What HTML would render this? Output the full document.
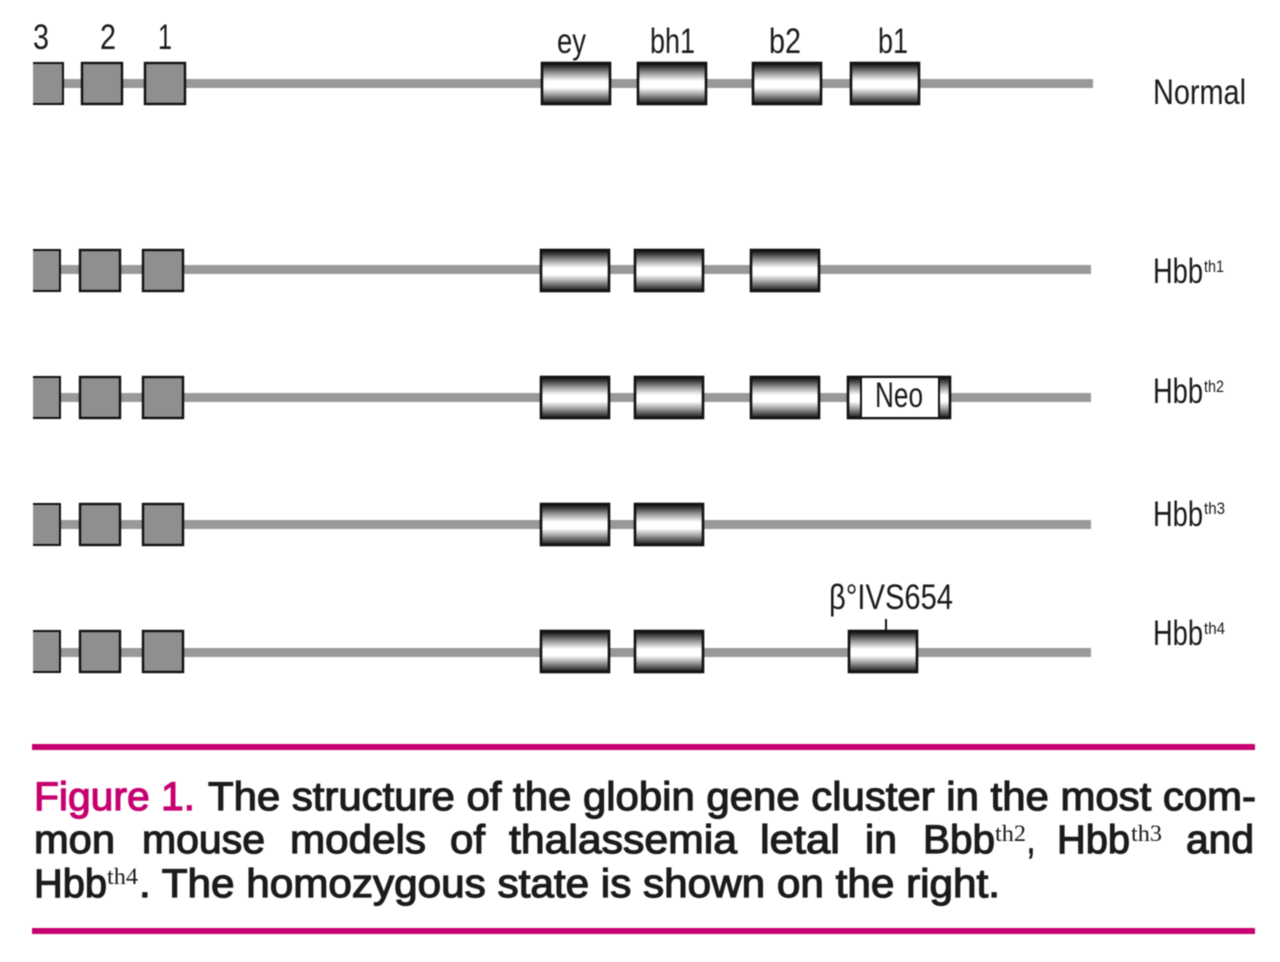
<!DOCTYPE html>
<html>
<head>
<meta charset="utf-8">
<style>
html,body{margin:0;padding:0;background:#fff;width:1280px;height:962px;overflow:hidden}
svg{display:block;filter:blur(.4px)}
text{font-family:"Liberation Sans",sans-serif;fill:#1a1a1a}
.l{font-size:35px;stroke:none}
.s{font-size:17px}
.c{font-size:40px;fill:#1c1a1b;stroke:#1c1a1b;stroke-width:1.2px}
.cs{font-size:23px;font-family:"Liberation Serif",serif;fill:#1c1a1b}
</style>
</head>
<body>
<svg width="1280" height="962" viewBox="0 0 1280 962" xmlns="http://www.w3.org/2000/svg">
<defs>
<linearGradient id="g" x1="0" y1="0" x2="0" y2="1">
<stop offset="0" stop-color="#111"/><stop offset=".08" stop-color="#333"/><stop offset=".25" stop-color="#999"/><stop offset=".44" stop-color="#fff"/><stop offset=".6" stop-color="#fff"/><stop offset=".78" stop-color="#999"/><stop offset=".92" stop-color="#444"/><stop offset="1" stop-color="#111"/>
</linearGradient>
<g id="gene"><rect x="1" y="1" width="68" height="41" fill="url(#g)" stroke="#111" stroke-width="2.6"/></g>
<g id="box"><rect x="1" y="1" width="40" height="41" fill="#8f8f8f" stroke="#111" stroke-width="2.4"/></g>
<g id="box3"><rect x="0" y="0" width="28" height="43" fill="#111"/><rect x="0" y="2" width="26" height="39" fill="#8f8f8f"/></g>
</defs>
<rect width="1280" height="962" fill="#fff"/>

<!-- Row 1 -->
<rect x="34" y="79" width="1059" height="9" fill="#999"/>
<g transform="translate(33,62)"><rect width="31" height="43" fill="#111"/><rect y="2" width="29" height="39" fill="#8f8f8f"/></g>
<use href="#box" x="81" y="62"/>
<use href="#box" x="144" y="62"/>
<use href="#gene" x="541" y="62"/><use href="#gene" x="637" y="62"/><use href="#gene" x="752" y="62"/><use href="#gene" x="850" y="62"/>

<!-- Row 2 -->
<rect x="34" y="265" width="1057" height="9" fill="#999"/>
<use href="#box3" x="33" y="249"/><use href="#box" x="79" y="249"/><use href="#box" x="142" y="249"/>
<use href="#gene" x="540" y="249"/><use href="#gene" x="634" y="249"/><use href="#gene" x="750" y="249"/>

<!-- Row 3 -->
<rect x="34" y="393" width="1057" height="9" fill="#999"/>
<use href="#box3" x="33" y="376"/><use href="#box" x="79" y="376"/><use href="#box" x="142" y="376"/>
<use href="#gene" x="540" y="376"/><use href="#gene" x="634" y="376"/><use href="#gene" x="750" y="376"/>
<rect x="848" y="377" width="102" height="41" fill="url(#g)" stroke="#111" stroke-width="2.6"/>
<rect x="861" y="377" width="78" height="41" fill="#fff" stroke="#111" stroke-width="2"/>

<!-- Row 4 -->
<rect x="34" y="520" width="1057" height="9" fill="#999"/>
<use href="#box3" x="33" y="503"/><use href="#box" x="79" y="503"/><use href="#box" x="142" y="503"/>
<use href="#gene" x="540" y="503"/><use href="#gene" x="634" y="503"/>

<!-- Row 5 -->
<rect x="34" y="648" width="1057" height="9" fill="#999"/>
<use href="#box3" x="33" y="630"/><use href="#box" x="79" y="630"/><use href="#box" x="142" y="630"/>
<use href="#gene" x="540" y="630"/><use href="#gene" x="634" y="630"/><use href="#gene" x="848" y="630"/>
<rect x="885" y="619" width="2" height="12" fill="#111"/>

<!-- Top labels -->
<text class="l" x="33" y="49" textLength="16" lengthAdjust="spacingAndGlyphs">3</text>
<text class="l" x="100" y="49" textLength="16" lengthAdjust="spacingAndGlyphs">2</text>
<text class="l" x="158" y="49" textLength="14" lengthAdjust="spacingAndGlyphs">1</text>
<text class="l" x="557" y="53" textLength="29" lengthAdjust="spacingAndGlyphs">ey</text>
<text class="l" x="650" y="53" textLength="45" lengthAdjust="spacingAndGlyphs">bh1</text>
<text class="l" x="769" y="53" textLength="32" lengthAdjust="spacingAndGlyphs">b2</text>
<text class="l" x="878" y="53" textLength="30" lengthAdjust="spacingAndGlyphs">b1</text>
<text class="l" x="875" y="407" textLength="48" lengthAdjust="spacingAndGlyphs">Neo</text>
<text class="l" x="829" y="609" textLength="124" lengthAdjust="spacingAndGlyphs">β°IVS654</text>

<!-- Right labels -->
<text class="l" x="1153" y="104" textLength="93" lengthAdjust="spacingAndGlyphs">Normal</text>
<text class="l" x="1153" y="283" textLength="50" lengthAdjust="spacingAndGlyphs">Hbb</text>
<text class="s" x="1204" y="272" textLength="20" lengthAdjust="spacingAndGlyphs">th1</text>
<text class="l" x="1153" y="403" textLength="50" lengthAdjust="spacingAndGlyphs">Hbb</text>
<text class="s" x="1204" y="392" textLength="20" lengthAdjust="spacingAndGlyphs">th2</text>
<text class="l" x="1153" y="526" textLength="50" lengthAdjust="spacingAndGlyphs">Hbb</text>
<text class="s" x="1204" y="514" textLength="21" lengthAdjust="spacingAndGlyphs">th3</text>
<text class="l" x="1153" y="645" textLength="50" lengthAdjust="spacingAndGlyphs">Hbb</text>
<text class="s" x="1204" y="634" textLength="21" lengthAdjust="spacingAndGlyphs">th4</text>

<!-- Rules -->
<rect x="32" y="744" width="1223" height="6" fill="#c6006f"/>
<rect x="32" y="928" width="1223" height="6" fill="#c6006f"/>

<!-- Caption -->
<text class="c" x="34" y="810" textLength="161" lengthAdjust="spacingAndGlyphs" style="fill:#c6006f;stroke:#c6006f">Figure 1.</text>
<text class="c" x="208" y="810" textLength="1048" lengthAdjust="spacingAndGlyphs">The structure of the globin gene cluster in the most com-</text>

<text class="c" x="34" y="853" textLength="81" lengthAdjust="spacingAndGlyphs">mon</text>
<text class="c" x="142" y="853" textLength="123" lengthAdjust="spacingAndGlyphs">mouse</text>
<text class="c" x="290" y="853" textLength="136" lengthAdjust="spacingAndGlyphs">models</text>
<text class="c" x="450" y="853" textLength="35" lengthAdjust="spacingAndGlyphs">of</text>
<text class="c" x="509" y="853" textLength="228" lengthAdjust="spacingAndGlyphs">thalassemia</text>
<text class="c" x="760" y="853" textLength="80" lengthAdjust="spacingAndGlyphs">letal</text>
<text class="c" x="865" y="853" textLength="32" lengthAdjust="spacingAndGlyphs">in</text>
<text class="c" x="923" y="853" textLength="72" lengthAdjust="spacingAndGlyphs">Bbb</text>
<text class="cs" x="995" y="841" textLength="31" lengthAdjust="spacingAndGlyphs">th2</text>
<text class="c" x="1027" y="853" textLength="8" lengthAdjust="spacingAndGlyphs">,</text>
<text class="c" x="1057" y="853" textLength="73" lengthAdjust="spacingAndGlyphs">Hbb</text>
<text class="cs" x="1131" y="841" textLength="31" lengthAdjust="spacingAndGlyphs">th3</text>
<text class="c" x="1186" y="853" textLength="68" lengthAdjust="spacingAndGlyphs">and</text>

<text class="c" x="34" y="897" textLength="73" lengthAdjust="spacingAndGlyphs">Hbb</text>
<text class="cs" x="107" y="884" textLength="31" lengthAdjust="spacingAndGlyphs">th4</text>
<text class="c" x="139" y="897" textLength="861" lengthAdjust="spacingAndGlyphs">. The homozygous state is shown on the right.</text>
</svg>
</body>
</html>
